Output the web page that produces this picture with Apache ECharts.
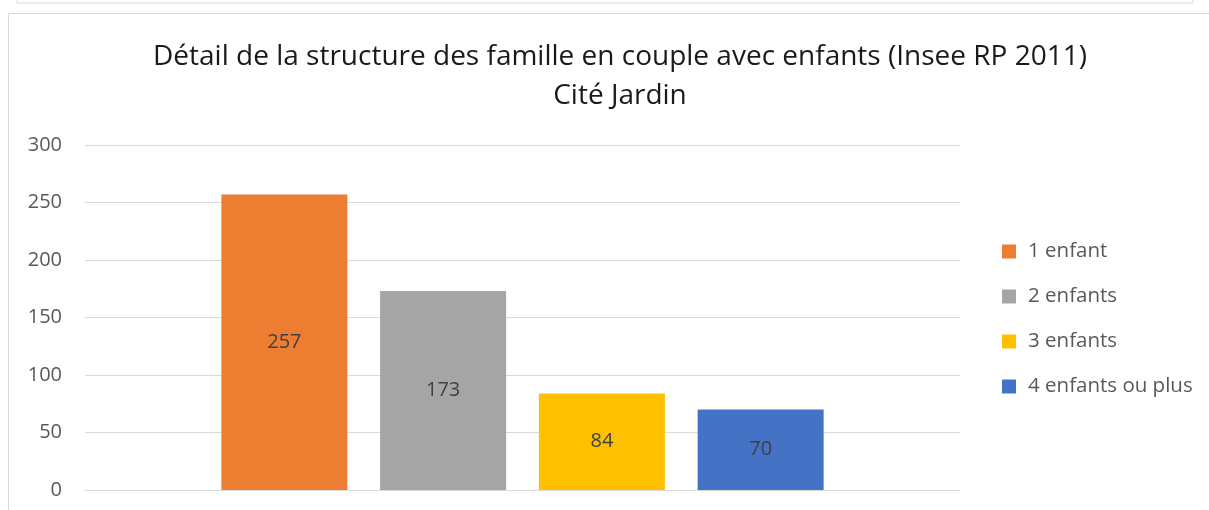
<!DOCTYPE html>
<html><head><meta charset="utf-8">
<script src="https://cdn.jsdelivr.net/npm/echarts@6/dist/echarts.min.js"></script>
<style>html,body{margin:0;padding:0;background:#fff}#c{width:1209px;height:510px}</style>
</head><body><div id="c"></div>
<script>
const titleLines = ["Détail de la structure des famille en couple avec enfants (Insee RP 2011)", "Cité Jardin"];
const categories = [""];
const seriesNames = ["1 enfant", "2 enfants", "3 enfants", "4 enfants ou plus"];
const seriesValues = [257, 173, 84, 70];
const seriesColors = ["#ED7D31", "#A5A5A5", "#FFC000", "#4472C4"];
const yTicks = [0, 50, 100, 150, 200, 250, 300];

const font = "'Open Sans', 'Noto Sans', sans-serif";
const chart = echarts.init(document.getElementById('c'));
chart.setOption({
  animation: false,
  title: {
    text: titleLines.join('\n'),
    left: 615, top: 33, textAlign: 'center',
    textStyle: {fontFamily: font, fontSize: 28, fontWeight: 'normal', color: '#1a1a1a', lineHeight: 39}
  },
  graphic: [
    {type: 'rect', shape: {x: 17, y: -10, width: 1176, height: 13}, style: {fill: 'none', stroke: '#d9d9d9', lineWidth: 1}},
    {type: 'polyline', shape: {points: [[8.5, 510], [8.5, 13.5], [1209, 13.5]]}, style: {fill: 'none', stroke: '#d9d9d9', lineWidth: 1}}
  ],
  legend: {
    orient: 'vertical', left: 1002, top: 241, itemGap: 24, padding: 0,
    itemWidth: 14, itemHeight: 14, icon: 'rect',
    textStyle: {fontFamily: font, fontSize: 20.5, lineHeight: 21, color: '#595959', padding: [0, 0, 0, 7]},
    data: seriesNames
  },
  grid: {left: 85, right: 249, top: 145, bottom: 20, containLabel: false},
  xAxis: {
    type: 'category', data: categories,
    axisLine: {show: true, lineStyle: {color: '#d9d9d9'}}, axisTick: {show: false}, axisLabel: {show: false}
  },
  yAxis: {
    type: 'value', min: yTicks[0], max: yTicks[yTicks.length - 1], interval: 50,
    axisLine: {show: false}, axisTick: {show: false},
    axisLabel: {fontFamily: font, fontSize: 20, color: '#595959', margin: 23},
    splitLine: {lineStyle: {color: '#d9d9d9', width: 1}}
  },
  series: seriesNames.map((n, i) => ({
    name: n, type: 'bar', data: [seriesValues[i]], barWidth: 126, barGap: '26%',
    itemStyle: {color: seriesColors[i]},
    label: {show: true, position: 'inside', fontFamily: font, fontSize: 20, color: '#404040'}
  }))
});
</script></body></html>
